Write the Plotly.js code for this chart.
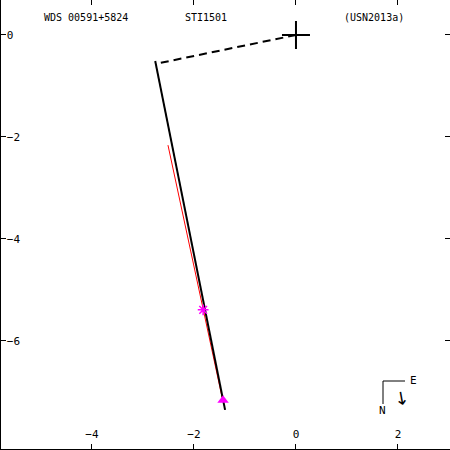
<!DOCTYPE html>
<html><head><meta charset="utf-8">
<script src="https://cdn.plot.ly/plotly-3.0.1.min.js"></script>
<style>html,body{margin:0;padding:0;background:#fff}#c{width:450px;height:450px}</style>
</head><body><div id="c"></div>
<script>
// Data (arcsec offsets, x = East-West, y = North-South)
const orbitX = [-2.76, -1.39];
const orbitY = [-0.51, -7.35];
const redX = [-2.51, -1.45];
const redY = [-2.16, -7.10];
const nodeX = [0, -2.72];
const nodeY = [0, -0.56];
const primaryX = [0];
const primaryY = [0];
const starX = [-1.82];
const starY = [-5.39];
const triX = [-1.43];
const triY = [-7.16];
const xTicks = [-4, -2, 0, 2];
const yTicks = [0, -2, -4, -6, -8];
const labels = ["WDS 00591+5824", "STI1501", "(USN2013a)"];

const F = "DejaVu Sans Mono, monospace";
const traces = [
  {x: redX, y: redY, mode: 'lines', line: {color: '#ff0000', width: 1}, hoverinfo: 'skip'},
  {x: orbitX, y: orbitY, mode: 'lines', line: {color: '#000', width: 2}},
  {x: nodeX, y: nodeY, mode: 'lines', line: {color: '#000', width: 2, dash: '8px,5px'}},
  {x: primaryX, y: primaryY, mode: 'markers', marker: {symbol: 'cross-thin', size: 20, line: {color: '#000', width: 2}}},
  {x: starX, y: starY, mode: 'markers', marker: {symbol: 'asterisk', size: 9, line: {color: '#ff00ff', width: 1.5}}},
  {x: triX, y: triY, mode: 'markers', marker: {symbol: 'triangle-up', size: 10, color: '#ff00ff'}}
];
const W = 449, H = 449;
function px(xp){return (xp-1)/W;}
function py(yp){return 1-(yp)/H;}
function ann(t, x, y, size, extra){
  return Object.assign({text: t, xref: 'paper', yref: 'paper', x: px(x), y: py(y), xanchor: 'center', yanchor: 'middle',
    showarrow: false, font: {family: F, size: size, color: '#000'}}, extra || {});
}
const layout = {
  width: 450, height: 450, showlegend: false,
  margin: {l: 1, r: 0, t: 0, b: 1},
  paper_bgcolor: '#fff', plot_bgcolor: '#fff',
  xaxis: {range: [-5.784, 3.020], tickvals: xTicks, ticks: 'inside', ticklen: 5,
    tickcolor: '#000', showline: true, linecolor: '#000', linewidth: 2, mirror: 'ticks', showgrid: false, zeroline: false,
    ticklabelposition: 'inside', ticklabelstandoff: 3, tickfont: {family: F, size: 11, color: '#000'}},
  yaxis: {range: [-8.118, 0.686], tickvals: yTicks, ticks: 'inside', ticklen: 5,
    tickcolor: '#000', showline: true, linecolor: '#000', linewidth: 2, mirror: 'ticks', showgrid: false, zeroline: false,
    ticklabelposition: 'inside', tickfont: {family: F, size: 11, color: '#000'}},
  annotations: [
    ann(labels[0], 86, 18, 10),
    ann(labels[1], 206, 18, 10),
    ann(labels[2], 374, 18, 10),
    ann('E', 413, 380, 11),
    ann('N', 382, 410, 11),
    ann('↓', 401, 398, 18, {textangle: -10, font: {family: 'DejaVu Sans', size: 18, color: '#000'}})
  ],
  shapes: [
    {type: 'line', xref: 'paper', yref: 'paper', x0: px(383), y0: py(381), x1: px(405), y1: py(381), line: {color: '#000', width: 1}},
    {type: 'line', xref: 'paper', yref: 'paper', x0: px(383), y0: py(381), x1: px(383), y1: py(404), line: {color: '#000', width: 1}}
  ]
};
Plotly.newPlot('c', traces, layout, {staticPlot: true, displayModeBar: false});
</script></body></html>
